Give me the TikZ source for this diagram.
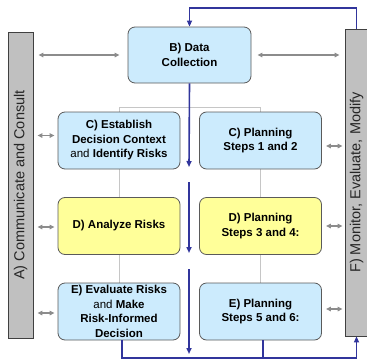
\documentclass[tikz,border=0pt]{standalone}
\usepackage{fontspec}
\setmainfont{Liberation Sans}
\usetikzlibrary{arrows.meta,positioning,calc,backgrounds}
\definecolor{boxblue}{HTML}{CCEBFD}
\definecolor{boxyellow}{HTML}{FFFF99}
\definecolor{boxline}{HTML}{5A5A5A}
\definecolor{barfill}{HTML}{C0C0C0}
\definecolor{barline}{HTML}{404040}
\definecolor{flowblue}{HTML}{31359C}
\definecolor{linkgray}{HTML}{8C8C8C}
\tikzset{
  stepb/.style={draw=boxline, rounded corners=7pt, line width=.8pt, align=center, inner sep=0pt, minimum width=122pt, minimum height=57pt, font=\fontsize{11.5}{14.5}\selectfont\bfseries},
  stepblue/.style={stepb, fill=boxblue},
  stepyel/.style={stepb, fill=boxyellow},
  bar/.style={draw=barline, fill=barfill, line width=.8pt, minimum width=25pt, minimum height=306pt, inner sep=0pt},
  bartxt/.style={rotate=90, font=\fontsize{14.5}{16}\selectfont, text=black!85},
  flow/.style={-{Triangle[length=6pt,width=5pt]}, line width=1.6pt, draw=flowblue},
  flowline/.style={line width=1.6pt, draw=flowblue},
  link/.style={{Triangle[length=5pt,width=4.5pt]}-{Triangle[length=5pt,width=4.5pt]}, line width=1.4pt, draw=linkgray},
  frame/.style={draw=gray!45, line width=.9pt},
}
\begin{document}
\begin{tikzpicture}[x=1pt,y=1pt]
  \useasboundingbox (0,0) rectangle (367,-362);
  % side bars
  \node[bar] (A) at (20.5,-185) {};
  \node[bartxt] at (A) {A) Communicate and Consult};
  \node[bar, minimum width=23pt, minimum height=307pt] (F) at (356.5,-182.5) {};
  \node[bartxt] at (F) {F) Monitor, Evaluate, Modify};
  % steps
  \node[stepblue, minimum width=123pt, minimum height=56pt] (B) at (189.5,-55) {B) Data\\Collection};
  \node[stepblue] (Cl) at (119,-140.5) {C) Establish\\Decision Context\\{\mdseries and} Identify Risks};
  \node[stepblue] (Cr) at (260.5,-140.5) {C) Planning\\Steps 1 and 2};
  \node[stepyel] (Dl) at (119,-226) {D) Analyze Risks};
  \node[stepyel] (Dr) at (260.5,-226) {D) Planning\\Steps 3 and 4:};
  \node[stepblue] (El) at (119,-311.5) {E) Evaluate Risks\\{\mdseries and} Make\\Risk-Informed\\Decision};
  \node[stepblue] (Er) at (260.5,-311.5) {E) Planning\\Steps 5 and 6:};
  % thin frame behind the steps
  \coordinate (fr) at (0,-107);
  \begin{scope}[on background layer]
    \draw[frame] (El.north) -- (El.north |- fr) -- (Er.north |- fr) -- (Er.north);
  \end{scope}
  % gray links to the bars
  \draw[link, shorten <=5pt, shorten >=8pt] (A.east |- B.west) -- (B.west);
  \draw[link, shorten <=6pt, shorten >=5pt] (B.east) -- (F.west |- B.east);
  \foreach \n/\dy in {Cl/5,Dl/-1,El/-1.5}
    \draw[link, shorten <=4pt, shorten >=3pt] ($(A.east |- \n.west)+(0,\dy)$) -- ($(\n.west)+(0,\dy)$);
  \foreach \n/\dy in {Cr/-5.5,Dr/0,Er/2.5}
    \draw[link, shorten <=4pt, shorten >=2pt] ($(\n.east)+(0,\dy)$) -- ($(F.west |- \n.east)+(0,\dy)$);
  % blue flow
  \coordinate (top) at (0,-8);
  \coordinate (base) at (0,-358);
  \coordinate (f1) at (189,-167);
  \coordinate (f2) at (189,-182);
  \coordinate (f3) at (189,-253);
  \coordinate (f4) at (189,-269);
  \coordinate (f5) at (189,-354);
  \draw[flow] (F.north) |- (B.north |- top) -- (B.north);
  \draw[flow] (B.south) -- (f1);
  \draw[flow] (f2) -- (f3);
  \draw[flow] (f4) -- (f5);
  \draw[flow] ([xshift=3pt]El.south) |- (F.south |- base) -- (F.south);
  \draw[flowline] ([xshift=2.5pt]Er.south) -- ([xshift=2.5pt]Er.south |- base);
\end{tikzpicture}
\end{document}
